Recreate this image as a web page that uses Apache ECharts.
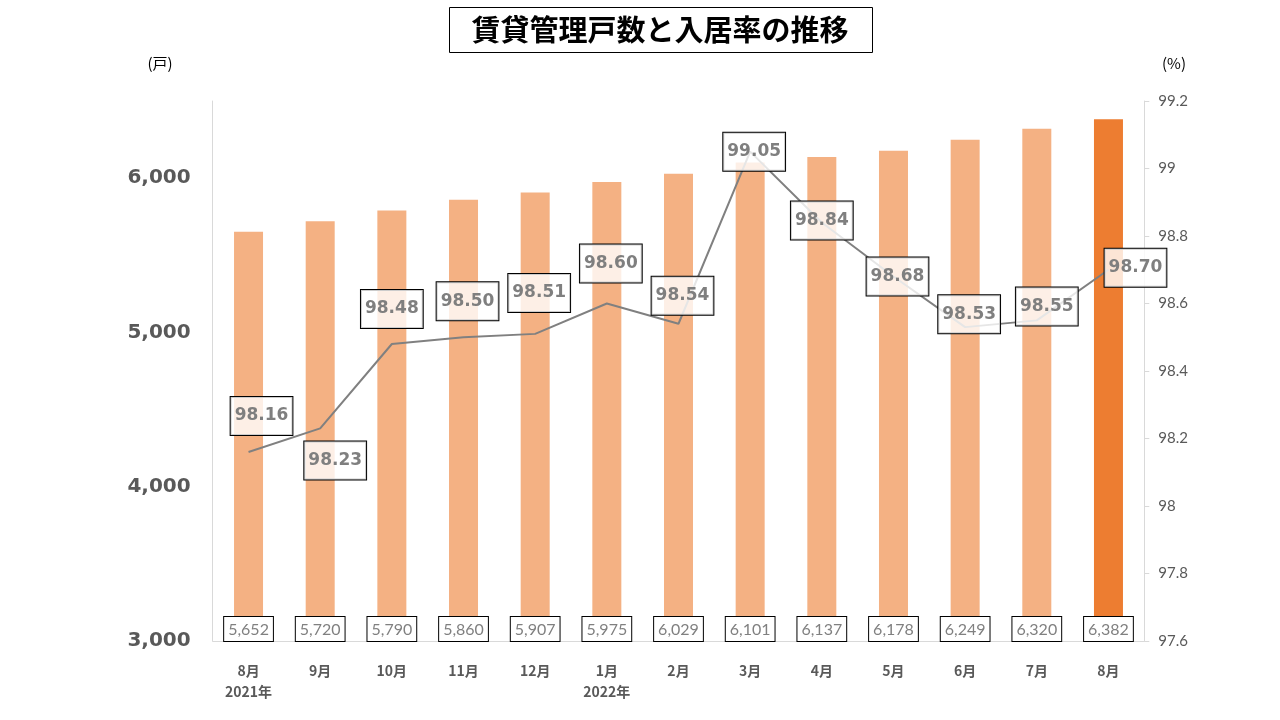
<!DOCTYPE html>
<html>
<head>
<meta charset="utf-8">
<script src="https://cdn.jsdelivr.net/npm/echarts@6/dist/echarts.min.js"></script>
<style>
html,body{margin:0;padding:0;background:#fff;}
#chart{width:1280px;height:720px;}
</style>
</head>
<body>
<div id="chart"></div>
<script>
const categories = ['8月\n2021年','9月','10月','11月','12月','1月\n2022年','2月','3月','4月','5月','6月','7月','8月'];
const units = [5652,5720,5790,5860,5907,5975,6029,6101,6137,6178,6249,6320,6382];
const occupancy = [98.16,98.23,98.48,98.50,98.51,98.60,98.54,99.05,98.84,98.68,98.53,98.55,98.70];
const leftTicks = {min:3000, max:6500, interval:1000};
const rightTicks = {min:97.6, max:99.2, interval:0.2};
const titleText = '賃貸管理戸数と入居率の推移';
const leftUnit = '(戸)';
const rightUnit = '(%)';

// label placement offsets (layout only)
const lineLabelOffsets = [[13,-36],[15,32],[0,-35],[4,-36],[4,-41],[4,-40],[4,-28],[4,0],[0,-2],[4,0],[4,-13],[10,-14],[27,-2]];

const chart = echarts.init(document.getElementById('chart'));
const fmtComma = v => String(v).replace(/\B(?=(\d{3})+(?!\d))/g, ',');

chart.setOption({
  animation:false,
  backgroundColor:'#ffffff',
  grid:{left:212.7, right:135.7, top:101, bottom:79, containLabel:false},
  graphic:[
    {type:'rect', shape:{x:449.5,y:7.5,width:423,height:45}, style:{fill:'#fff',stroke:'#000',lineWidth:1}, z:10},
    {type:'text', x:660, y:30, style:{text:titleText, fill:'#000', font:'bold 29px "Noto Sans CJK JP"', align:'center', verticalAlign:'middle'}, z:11},
    {type:'text', x:160, y:63, style:{text:leftUnit, fill:'#000', font:'15px "Noto Sans CJK JP"', align:'center', verticalAlign:'middle'}},
    {type:'text', x:1174, y:63, style:{text:rightUnit, fill:'#000', font:'15px "Noto Sans CJK JP"', align:'center', verticalAlign:'middle'}}
  ],
  xAxis:{
    type:'category', data:categories,
    axisLine:{show:true, lineStyle:{color:'#d9d9d9', width:1}},
    axisTick:{show:false},
    axisLabel:{color:'#595959', fontWeight:'bold', fontSize:14, fontFamily:'Noto Sans CJK JP', lineHeight:21, margin:19, interval:0}
  },
  yAxis:[
    {
      type:'value', min:leftTicks.min, max:leftTicks.max, interval:leftTicks.interval,
      axisLine:{show:true, lineStyle:{color:'#d9d9d9'}},
      axisTick:{show:false},
      splitLine:{show:false},
      axisLabel:{showMaxLabel:false, color:'#595959', fontWeight:'bold', fontSize:20, fontFamily:'DejaVu Sans', margin:22, formatter:v=>fmtComma(v)}
    },
    {
      type:'value', min:rightTicks.min, max:rightTicks.max, interval:rightTicks.interval,
      axisLine:{show:true, lineStyle:{color:'#d9d9d9'}},
      axisTick:{show:true, length:5, lineStyle:{color:'#d9d9d9'}},
      splitLine:{show:false},
      axisLabel:{color:'#595959', fontSize:15, fontFamily:'Lato', margin:14, formatter:v=>String(+(+v).toFixed(1))}
    }
  ],
  series:[
    {
      type:'bar', yAxisIndex:0, barWidth:29,
      data:units,
      itemStyle:{color:p => p.dataIndex === units.length-1 ? '#ED7D31' : '#F4B183'},
      label:{show:true, position:'insideBottom', distance:0, formatter:p=>fmtComma(p.value),
        color:'#808080', fontSize:16, fontFamily:'Lato', lineHeight:19,
        backgroundColor:'#ffffff', borderColor:'#000', borderWidth:1, padding:[3,4,2,4]}
    },
    {
      type:'line', yAxisIndex:1,
      data:occupancy.map((v,i)=>({value:v, label:{offset:lineLabelOffsets[i]}})),
      symbol:'circle', symbolSize:1, showSymbol:true,
      itemStyle:{color:'rgba(0,0,0,0)'},
      lineStyle:{color:'#808080', width:2},
      z:5,
      label:{show:true, position:'inside', formatter:p=>p.value.toFixed(2),
        color:'#7f7f7f', fontWeight:'bold', fontSize:17, fontFamily:'DejaVu Sans', lineHeight:18,
        backgroundColor:'rgba(255,255,255,0.8)', borderColor:'#000', borderWidth:1, padding:[10,4,10,4]}
    }
  ]
});
</script>
</body>
</html>
